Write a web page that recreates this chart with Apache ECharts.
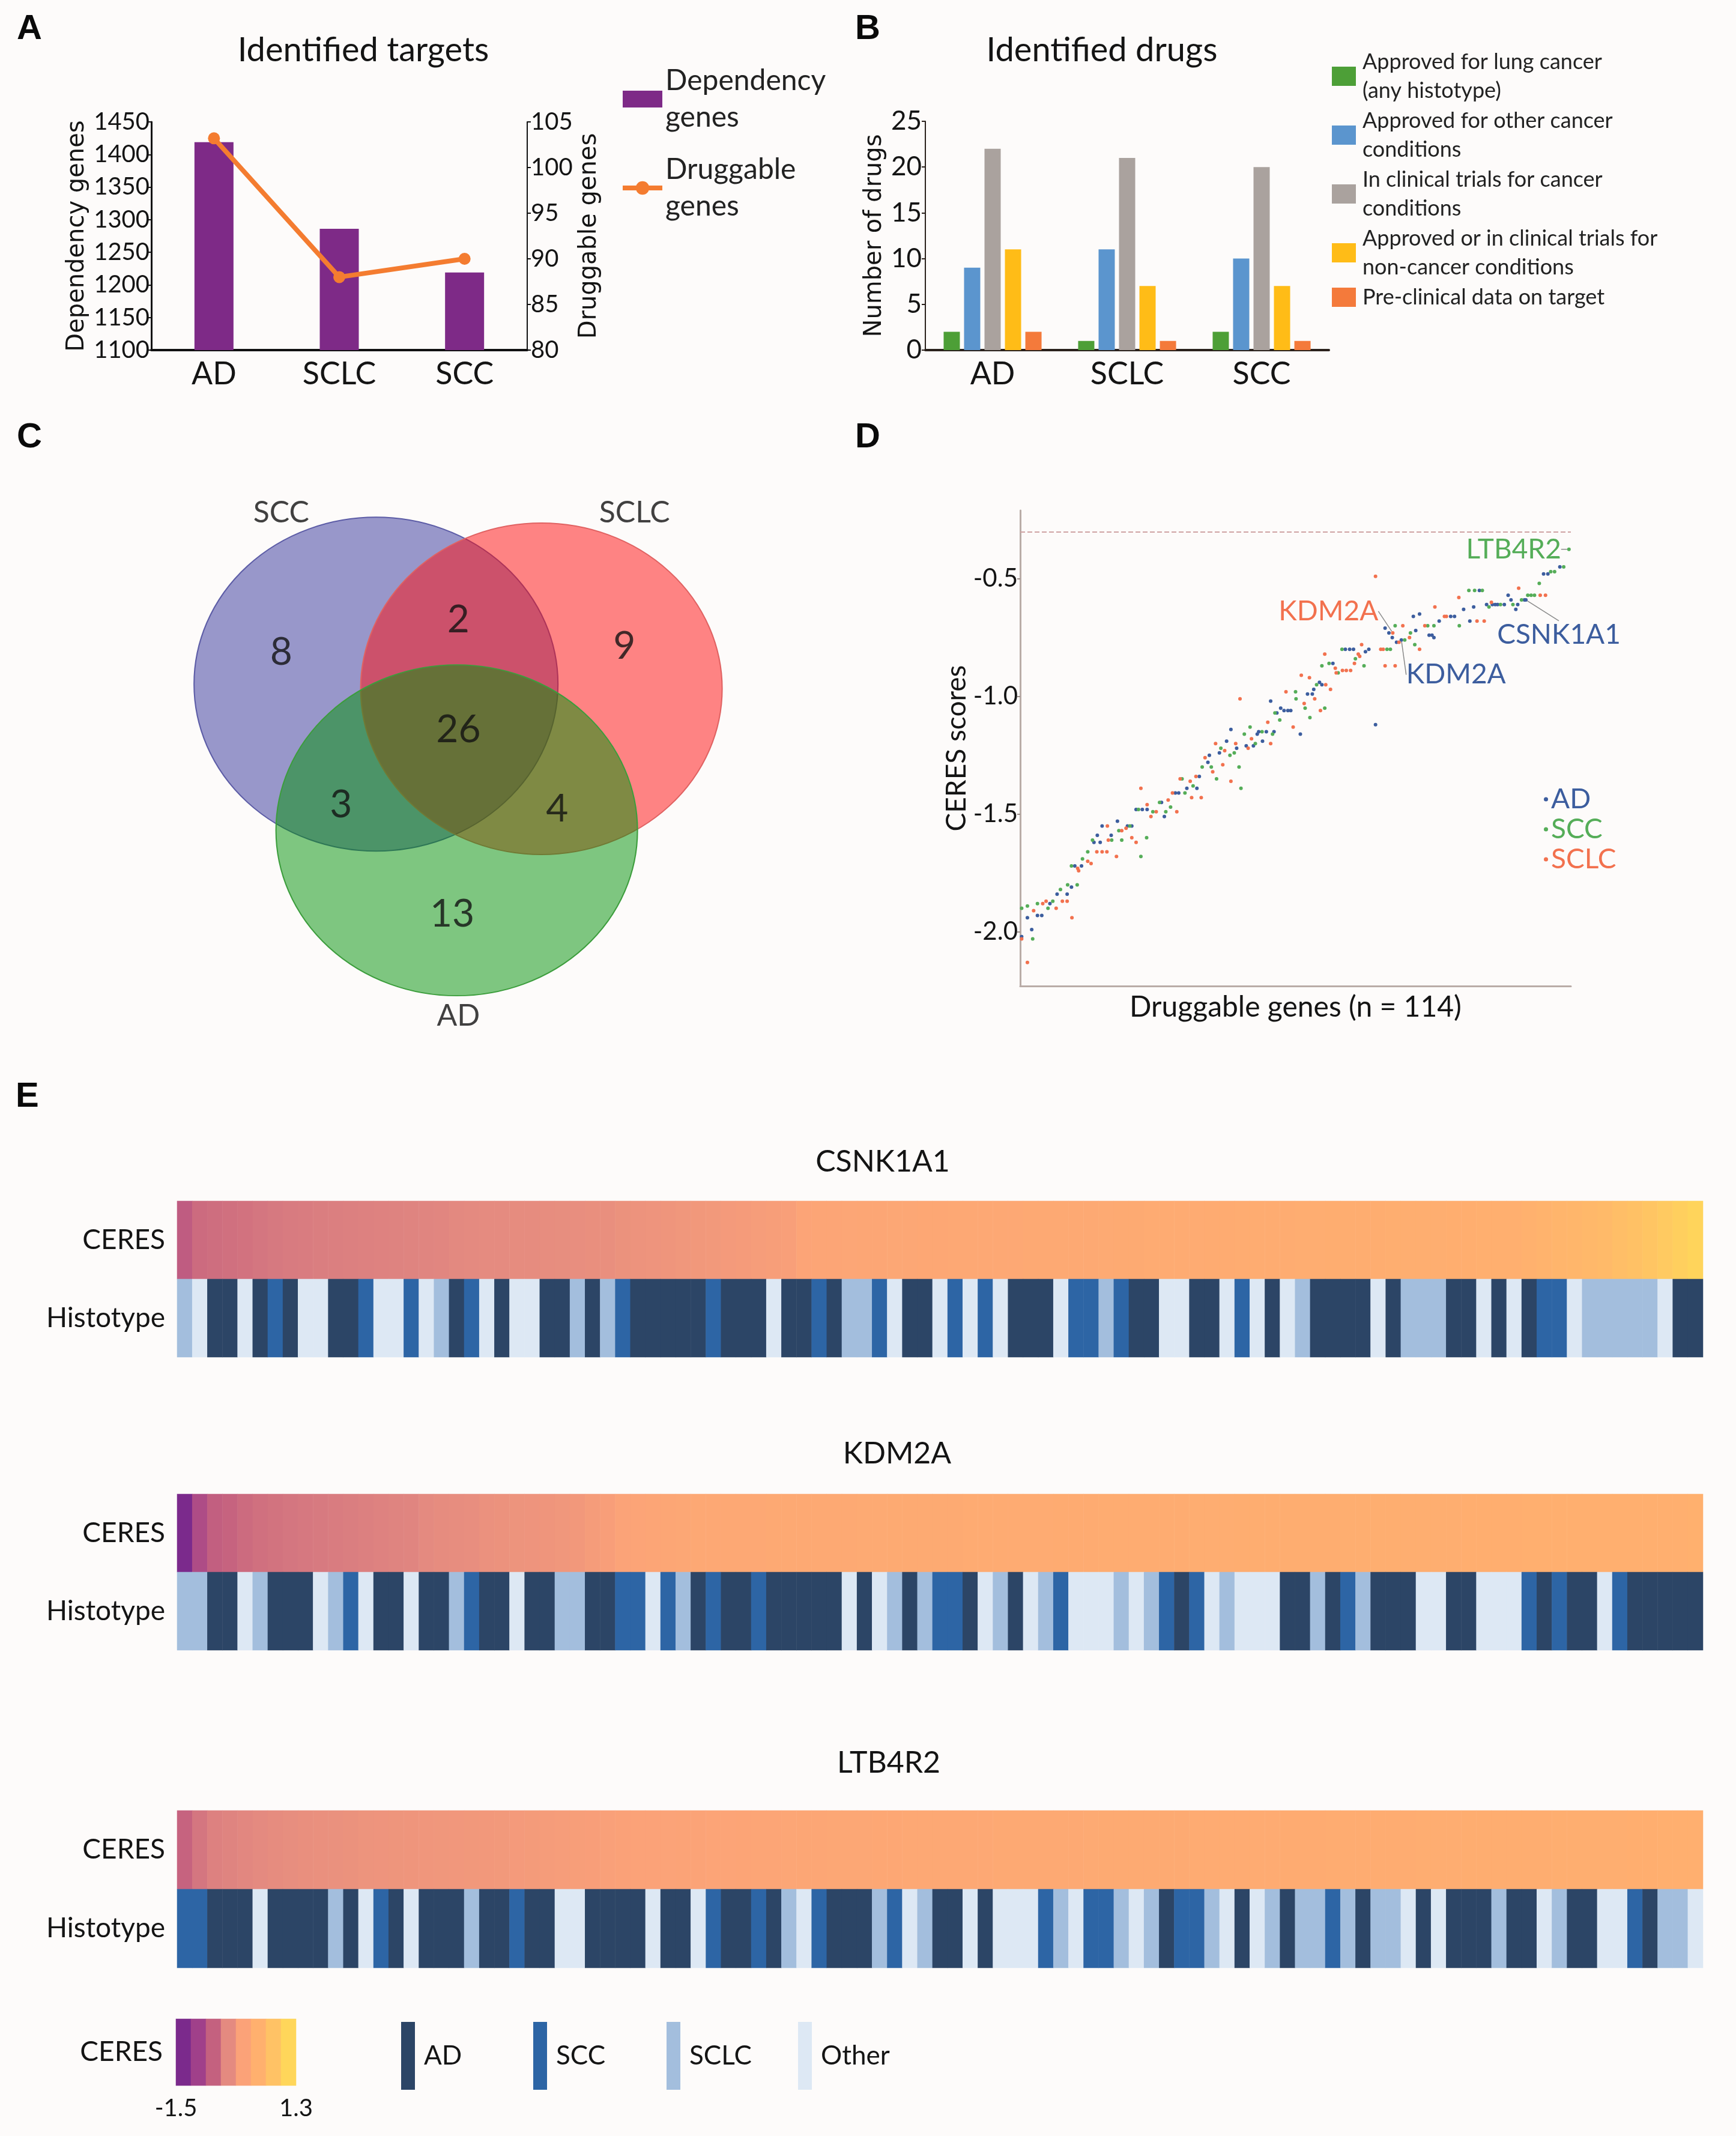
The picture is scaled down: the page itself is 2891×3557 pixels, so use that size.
<!DOCTYPE html>
<html><head><meta charset="utf-8">
<script src="https://cdn.jsdelivr.net/npm/echarts@6/dist/echarts.min.js"></script>
<style>html,body{margin:0;padding:0;background:#fdfbfa}#c{width:2891px;height:3557px}</style>
</head><body><div id="c"></div>
<script>
// ---------------- Panel A data
const histotypes = ['AD', 'SCLC', 'SCC'];
const dependencyGenes = [1419, 1286, 1219];
const druggableGenes = [103.2, 88.0, 90.0];

// ---------------- Panel B data
const drugCategories = [
  'Approved for lung cancer\n(any histotype)',
  'Approved for other cancer\nconditions',
  'In clinical trials for cancer\nconditions',
  'Approved or in clinical trials for\nnon-cancer conditions',
  'Pre-clinical data on target'
];
const drugsApprovedLung = [2, 1, 2];
const drugsApprovedOther = [9, 11, 10];
const drugsClinicalCancer = [22, 21, 20];
const drugsNonCancer = [11, 7, 7];
const drugsPreclinical = [2, 1, 1];

// ---------------- Panel C data
const vennSets = ['SCC', 'SCLC', 'AD'];
const vennRegions = ['SCC', 'SCC&SCLC', 'SCLC', 'SCC&SCLC&AD', 'SCC&AD', 'SCLC&AD', 'AD'];
const vennCounts = [8, 2, 9, 26, 3, 4, 13];

// ---------------- Panel D data  [gene rank, CERES score]
const ceresAD = [[0.3,-2.02],[1.5,-1.94],[2.4,-1.99],[3.6,-1.93],[4.5,-1.93],[6.2,-1.88],[7.7,-1.84],[9.8,-1.84],[10.7,-1.81],[11.4,-1.72],[12.8,-1.72],[15.4,-1.62],[16.1,-1.59],[16.7,-1.62],[17.1,-1.55],[19.0,-1.59],[20.3,-1.53],[22.4,-1.55],[23.3,-1.55],[24.2,-1.48],[25.5,-1.48],[26.5,-1.48],[29.5,-1.45],[30.1,-1.51],[32.4,-1.41],[33.1,-1.41],[34.8,-1.39],[36.9,-1.39],[37.4,-1.34],[39.2,-1.28],[39.5,-1.25],[41.6,-1.24],[43.1,-1.19],[44.0,-1.14],[45.2,-1.22],[47.2,-1.21],[48.7,-1.21],[49.5,-1.16],[49.8,-1.15],[50.6,-1.19],[51.4,-1.15],[52.3,-1.02],[53.0,-1.15],[53.6,-1.07],[54.4,-1.05],[55.1,-1.06],[55.9,-1.06],[56.5,-1.06],[58.5,-1.16],[60.0,-0.99],[61.0,-0.99],[61.3,-0.97],[62.5,-0.94],[63.0,-0.95],[65.3,-0.86],[67.9,-0.80],[68.8,-0.80],[69.6,-0.80],[72.1,-0.81],[72.8,-0.80],[74.2,-1.12],[76.2,-0.71],[77.0,-0.73],[77.7,-0.75],[78.6,-0.77],[79.6,-0.76],[82.1,-0.66],[82.6,-0.72],[83.4,-0.65],[85.4,-0.74],[86.0,-0.74],[86.4,-0.75],[87.5,-0.68],[89.9,-0.66],[90.7,-0.66],[92.6,-0.63],[93.9,-0.68],[94.7,-0.62],[95.9,-0.55],[97.4,-0.61],[98.6,-0.61],[99.2,-0.61],[99.7,-0.61],[101.1,-0.61],[101.9,-0.57],[102.5,-0.59],[103.5,-0.63],[103.9,-0.61],[105.3,-0.59],[105.6,-0.59],[109.3,-0.48],[110.2,-0.48],[112.7,-0.45]];
const ceresSCC = [[0.3,-1.90],[1.5,-1.89],[2.6,-2.03],[3.6,-1.88],[5.8,-1.90],[6.8,-1.87],[8.4,-1.82],[9.9,-1.80],[10.7,-1.72],[11.9,-1.80],[13.0,-1.69],[14.1,-1.66],[15.1,-1.61],[19.1,-1.61],[20.6,-1.57],[21.2,-1.61],[22.9,-1.55],[24.7,-1.48],[25.2,-1.68],[26.4,-1.60],[27.7,-1.49],[29.1,-1.45],[30.4,-1.49],[31.4,-1.47],[33.8,-1.35],[34.4,-1.41],[36.1,-1.38],[38.0,-1.30],[39.9,-1.30],[41.0,-1.35],[41.9,-1.22],[43.8,-1.25],[44.7,-1.24],[45.7,-1.30],[46.1,-1.39],[46.8,-1.16],[48.0,-1.13],[49.1,-1.20],[50.5,-1.15],[52.7,-1.16],[53.2,-1.07],[54.2,-1.10],[57.5,-0.98],[57.6,-1.01],[59.5,-1.05],[60.5,-1.09],[61.9,-0.95],[63.0,-0.87],[63.6,-1.05],[64.5,-0.86],[66.4,-0.90],[67.2,-0.80],[70.0,-0.84],[71.8,-0.87],[76.6,-0.80],[77.3,-0.80],[78.3,-0.70],[80.3,-0.76],[81.5,-0.73],[82.4,-0.78],[85.1,-0.70],[86.4,-0.70],[91.7,-0.70],[93.7,-0.55],[94.9,-0.55],[96.5,-0.55],[97.9,-0.62],[100.3,-0.61],[102.9,-0.61],[104.7,-0.59],[106.0,-0.57],[106.7,-0.57],[107.4,-0.57],[108.4,-0.52],[110.8,-0.47],[111.6,-0.47],[113.5,-0.45],[114.6,-0.375]];
const ceresSCLC = [[0.3,-2.03],[1.5,-2.13],[2.8,-1.91],[4.7,-1.88],[5.4,-1.87],[7.5,-1.90],[8.8,-1.87],[9.8,-1.87],[10.8,-1.94],[12.0,-1.73],[12.2,-1.74],[14.1,-1.70],[14.8,-1.71],[16.0,-1.66],[17.1,-1.66],[18.1,-1.66],[18.2,-1.55],[18.4,-1.61],[20.1,-1.68],[21.2,-1.57],[22.1,-1.56],[23.3,-1.60],[24.2,-1.62],[25.2,-1.39],[26.5,-1.46],[27.3,-1.51],[28.4,-1.49],[30.9,-1.44],[31.8,-1.41],[32.7,-1.49],[33.4,-1.35],[35.5,-1.36],[35.8,-1.43],[36.7,-1.34],[37.8,-1.43],[38.6,-1.26],[40.2,-1.32],[40.8,-1.20],[42.3,-1.29],[42.7,-1.23],[44.0,-1.36],[45.0,-1.20],[45.9,-1.01],[47.6,-1.22],[48.3,-1.18],[51.7,-1.11],[52.3,-1.20],[55.5,-0.98],[57.0,-1.13],[58.7,-0.91],[59.3,-1.03],[60.4,-0.92],[61.5,-1.01],[62.7,-1.06],[63.6,-0.82],[63.8,-0.95],[64.8,-0.97],[65.8,-0.88],[66.0,-0.90],[67.3,-0.89],[68.1,-0.89],[69.0,-0.89],[69.8,-0.86],[70.6,-0.82],[70.9,-0.83],[71.3,-0.78],[74.2,-0.49],[75.3,-0.80],[75.8,-0.80],[76.2,-0.87],[77.8,-0.73],[78.3,-0.87],[79.1,-0.77],[79.9,-0.70],[81.3,-0.75],[83.4,-0.80],[84.5,-0.70],[86.6,-0.62],[88.6,-0.66],[89.0,-0.66],[91.6,-0.58],[95.4,-0.68],[96.9,-0.68],[98.4,-0.60],[104.1,-0.54],[108.6,-0.57],[109.7,-0.57]];
const ceresThreshold = -0.3;
const yTicksD = [-2.0, -1.5, -1.0, -0.5];
// highlighted genes: [series, rank] -> gene name
const highlightGenes = [['AD', 79.6, 'KDM2A'], ['AD', 105.6, 'CSNK1A1'], ['SCC', 114.6, 'LTB4R2'], ['SCLC', 77.8, 'KDM2A']];

// ---------------- Panel E data
const heatGenes = ['CSNK1A1', 'KDM2A', 'LTB4R2'];
const heatCeresCSNK1A1 = [-0.76,-0.60,-0.57,-0.55,-0.53,-0.50,-0.47,-0.45,-0.44,-0.42,-0.41,-0.40,-0.39,-0.38,-0.37,-0.36,-0.35,-0.34,-0.31,-0.30,-0.29,-0.28,-0.27,-0.26,-0.25,-0.24,-0.23,-0.22,-0.21,-0.17,-0.15,-0.13,-0.11,-0.09,-0.07,-0.05,-0.03,-0.01,0.01,0.03,0.05,0.16,0.18,0.19,0.20,0.21,0.22,0.23,0.24,0.25,0.25,0.26,0.27,0.27,0.28,0.28,0.29,0.29,0.30,0.30,0.31,0.32,0.34,0.34,0.35,0.35,0.36,0.36,0.37,0.37,0.38,0.38,0.39,0.39,0.40,0.40,0.41,0.41,0.42,0.42,0.43,0.43,0.44,0.44,0.45,0.45,0.46,0.47,0.48,0.52,0.56,0.60,0.64,0.68,0.72,0.80,0.88,0.96,1.05,1.15,1.25];
const heatCeresKDM2A = [-1.50,-0.95,-0.72,-0.68,-0.60,-0.55,-0.52,-0.50,-0.48,-0.46,-0.44,-0.42,-0.40,-0.38,-0.36,-0.35,-0.30,-0.27,-0.25,-0.23,-0.18,-0.16,-0.14,-0.13,-0.11,-0.09,-0.06,0.00,0.04,0.12,0.16,0.19,0.21,0.24,0.26,0.27,0.27,0.28,0.28,0.29,0.29,0.30,0.30,0.31,0.31,0.32,0.32,0.33,0.33,0.33,0.34,0.34,0.35,0.35,0.35,0.36,0.36,0.36,0.37,0.37,0.37,0.38,0.38,0.38,0.39,0.39,0.39,0.40,0.40,0.40,0.41,0.41,0.41,0.42,0.42,0.42,0.42,0.43,0.43,0.43,0.43,0.44,0.44,0.44,0.44,0.45,0.45,0.45,0.45,0.46,0.46,0.46,0.46,0.47,0.47,0.47,0.47,0.48,0.48,0.48,0.49];
const heatCeresLTB4R2 = [-0.68,-0.50,-0.39,-0.36,-0.33,-0.30,-0.26,-0.24,-0.22,-0.20,-0.19,-0.17,-0.14,-0.13,-0.12,-0.11,-0.10,-0.09,-0.08,-0.07,-0.06,-0.05,-0.03,-0.02,0.00,0.01,0.03,0.04,0.06,0.09,0.10,0.11,0.12,0.13,0.14,0.15,0.16,0.17,0.18,0.19,0.20,0.22,0.22,0.23,0.24,0.24,0.25,0.25,0.26,0.26,0.27,0.27,0.28,0.28,0.29,0.29,0.30,0.30,0.31,0.31,0.32,0.33,0.33,0.33,0.34,0.34,0.34,0.35,0.35,0.35,0.36,0.36,0.36,0.37,0.37,0.37,0.38,0.38,0.38,0.39,0.39,0.39,0.40,0.40,0.40,0.41,0.41,0.41,0.42,0.42,0.42,0.43,0.43,0.43,0.44,0.44,0.45,0.45,0.46,0.46,0.47];
// histotype runs read left to right: D=AD, S=SCC, L=SCLC, O=Other, number = run length
const histoRunsCSNK1A1 = 'L1 O1 D2 O1 D1 S1 D1 O2 D2 S1 O2 S1 O1 L1 D1 S1 O1 D1 O2 D2 L1 D1 L1 S1 D5 S1 D3 O1 D2 S1 D1 L2 S1 O1 D2 O1 S1 O1 S1 O1 D3 O1 S2 L1 S1 D2 O2 D2 O1 S1 O1 D1 O1 L1 D4 O1 D1 L3 D2 O1 D1 O1 D1 S2 O1 L5 O1 D2';
const histoRunsKDM2A = 'L2 D2 O1 L1 D3 O1 L1 S1 O1 D2 O1 D2 L1 S1 D2 O1 D2 L2 D2 S2 O1 S1 L1 D1 S1 D2 S1 D5 O1 D1 O1 L1 D1 L1 S2 D1 O1 L1 D1 O1 L1 S1 O3 L1 O1 L1 S1 D1 S1 O1 L1 O3 D2 L1 D1 S1 L1 D3 O2 D2 O3 S1 D1 S1 D2 O1 S1 D5';
const histoRunsLTB4R2 = 'S2 D3 O1 D4 L1 D1 O1 S1 D1 O1 D3 L1 D2 S1 D2 O2 D4 O1 D2 O1 S1 D2 S1 D1 L1 O1 S1 D3 L1 S1 O1 L1 D2 O1 D1 O3 S1 L1 O1 S2 L1 O1 L1 D1 S2 L1 O1 D1 O1 L1 D1 L2 S1 L1 D1 L2 O1 D1 O1 D3 L1 D2 O1 L1 D2 O2 S1 D1 L2 O1';
const histoLegend = ['AD', 'SCC', 'SCLC', 'Other'];
const ceresLegendSteps = [-1.5, -1.1, -0.7, -0.3, 0.1, 0.5, 0.9, 1.3];
const ceresLegendTicks = [-1.5, 1.3];

// ---------------- styles / layout
const FONT = 'Lato, "Open Sans", sans-serif';
const INK = '#141414';
const purple = '#7e2a87', orange = '#f47c30';
const drugColors = ['#4d9f37', '#5b95ce', '#aaa29e', '#ffbc17', '#f47a3b'];
const scatterColors = {AD: '#3c5d9e', SCC: '#55ad58', SCLC: '#f2714e'};
const histoColors = ['#2c4566', '#2d65a5', '#a3bedd', '#dde8f4'];
const ceresPalette = ['#7b2a8c', '#a0408a', '#c4617f', '#e48a80', '#fba278', '#ffb06e', '#ffc265', '#ffd65a'];
const vennLayout = [
  {x: 34.7, y: 65.2, w: 606, h: 556, fill: 'rgba(51,51,153,0.5)', line: '#5c5ca6'},
  {x: 64.0, y: 64.3, w: 602, h: 552, fill: 'rgba(255,12,12,0.5)', line: '#e06262'},
  {x: 49.0, y: 36.9, w: 602, h: 551, fill: 'rgba(0,145,5,0.5)', line: '#3c9d3c'}
];
const vennRegionPos = [[17.9, 71.3], [49.3, 77.6], [78.7, 72.5], [49.3, 56.3], [28.5, 41.8], [66.8, 41.0], [48.2, 20.7]];
const vennSetPos = [[17.9, 98.4], [80.5, 98.4], [49.3, 0.9]];
const annotStyle = {
  'AD|79.6': {pos: 'bottom', dx: 91, dy: 22},
  'AD|105.6': {pos: 'bottom', dx: 55, dy: 22},
  'SCC|114.6': {pos: 'left', dx: 0, dy: 0},
  'SCLC|77.8': {pos: 'top', dx: -107, dy: 0}
};

function expandRuns(s) {
  const map = {D: 0, S: 1, L: 2, O: 3};
  const out = [];
  s.split(' ').forEach(t => { const n = +t.slice(1); for (let k = 0; k < n; k++) out.push(map[t[0]]); });
  return out;
}

const chart = echarts.init(document.getElementById('c'), null, {renderer: 'canvas', width: 2891, height: 3557});

const grids = [
  {left: 252, top: 203, width: 626, height: 380},
  {left: 1541, top: 202, width: 672, height: 381},
  {left: 300, top: 840, width: 940, height: 860},
  {left: 1699, top: 850, width: 917, height: 792},
  {left: 295, top: 2000, width: 2541, height: 260},
  {left: 295, top: 2488, width: 2541, height: 260},
  {left: 295, top: 3015, width: 2541, height: 262},
  {left: 293, top: 3362, width: 200, height: 111}
];

const xAxes = [], yAxes = [], series = [];
const catLabel = {fontSize: 52, color: INK, margin: 14};
const plain = v => String(v);

// Panel A
xAxes.push({gridIndex: 0, type: 'category', data: histotypes, axisLine: {lineStyle: {color: '#111', width: 4}}, axisTick: {show: false}, axisLabel: catLabel});
yAxes.push({gridIndex: 0, type: 'value', min: 1100, max: 1450, interval: 50, splitLine: {show: false},
  axisLine: {show: true, lineStyle: {color: '#111', width: 3}}, axisTick: {show: true, length: 6, lineStyle: {color: '#111', width: 2}},
  axisLabel: {fontSize: 40, color: INK, margin: 3, formatter: plain},
  name: 'Dependency genes', nameLocation: 'middle', nameGap: 103, nameTextStyle: {fontFamily: 'DejaVu Sans', fontSize: 40, color: INK}});
yAxes.push({gridIndex: 0, type: 'value', position: 'right', min: 80, max: 105, interval: 5, splitLine: {show: false},
  axisLine: {show: true, lineStyle: {color: '#111', width: 2}}, axisTick: {show: true, length: 6, lineStyle: {color: '#111', width: 2}},
  axisLabel: {fontSize: 40, color: INK, margin: 6, formatter: plain},
  name: 'Druggable genes', nameLocation: 'middle', nameGap: 84, nameTextStyle: {fontFamily: 'DejaVu Sans', fontSize: 40, color: INK}});
series.push({type: 'bar', name: 'Dependency\ngenes', xAxisIndex: 0, yAxisIndex: 0, data: dependencyGenes, barWidth: 65, itemStyle: {color: purple}});
series.push({type: 'line', name: 'Druggable\ngenes', xAxisIndex: 0, yAxisIndex: 1, data: druggableGenes, symbol: 'circle', symbolSize: 20,
  lineStyle: {color: orange, width: 8}, itemStyle: {color: orange}});

// Panel B
xAxes.push({gridIndex: 1, type: 'category', data: histotypes, axisLine: {lineStyle: {color: '#2a211c', width: 4}}, axisTick: {show: false}, axisLabel: catLabel});
yAxes.push({gridIndex: 1, type: 'value', min: 0, max: 25, interval: 5, splitLine: {show: false},
  axisLine: {show: true, lineStyle: {color: '#2a211c', width: 2}}, axisTick: {show: true, length: 6, lineStyle: {color: '#2a211c', width: 2}},
  axisLabel: {fontSize: 44, color: INK, margin: 6},
  name: 'Number of drugs', nameLocation: 'middle', nameGap: 64, nameTextStyle: {fontFamily: 'DejaVu Sans', fontSize: 40, color: INK}});
[drugsApprovedLung, drugsApprovedOther, drugsClinicalCancer, drugsNonCancer, drugsPreclinical].forEach((d, i) => {
  series.push({type: 'bar', name: drugCategories[i], xAxisIndex: 1, yAxisIndex: 2, data: d, barWidth: 27, barGap: '26%', itemStyle: {color: drugColors[i]}});
});

// Panel C (Venn)
xAxes.push({gridIndex: 2, type: 'value', min: 0, max: 100, show: false});
yAxes.push({gridIndex: 2, type: 'value', min: 0, max: 100, show: false});
series.push({type: 'scatter', name: 'vennSets', xAxisIndex: 2, yAxisIndex: 3, silent: true,
  data: vennSets.map((s, i) => ({name: s, value: [vennLayout[i].x, vennLayout[i].y], symbolSize: [vennLayout[i].w, vennLayout[i].h],
    itemStyle: {color: vennLayout[i].fill, borderColor: vennLayout[i].line, borderWidth: 2, opacity: 1}}))});
series.push({type: 'scatter', name: 'vennCounts', xAxisIndex: 2, yAxisIndex: 3, silent: true, symbolSize: 1, itemStyle: {color: 'rgba(0,0,0,0)'},
  label: {show: true, position: 'inside', fontSize: 64, color: '#111', formatter: p => p.value[2]},
  data: vennCounts.map((c, i) => [vennRegionPos[i][0], vennRegionPos[i][1], c])});
series.push({type: 'scatter', name: 'vennNames', xAxisIndex: 2, yAxisIndex: 3, silent: true, symbolSize: 1, itemStyle: {color: 'rgba(0,0,0,0)'},
  label: {show: true, position: 'inside', fontSize: 50, color: '#111', formatter: p => p.name},
  data: vennSets.map((s, i) => ({name: s, value: vennSetPos[i]}))});

// Panel D
xAxes.push({gridIndex: 3, type: 'value', min: 0, max: 115, splitLine: {show: false},
  axisLine: {show: true, onZero: false, lineStyle: {color: '#b9aca7', width: 3}}, axisTick: {show: false}, axisLabel: {show: false},
  name: 'Druggable genes (n = 114)', nameLocation: 'middle', nameGap: 12, nameTextStyle: {fontSize: 48, color: INK}});
yAxes.push({gridIndex: 3, type: 'value', min: -2.23, max: -0.21, splitLine: {show: false},
  axisLine: {show: true, onZero: false, lineStyle: {color: '#b9aca7', width: 3}},
  axisTick: {show: true, customValues: yTicksD, length: 5, lineStyle: {color: '#9a8d88', width: 2}},
  axisLabel: {customValues: yTicksD, formatter: v => v.toFixed(1), fontSize: 42, color: INK, margin: 4},
  name: 'CERES scores', nameLocation: 'middle', nameGap: 83, nameTextStyle: {fontSize: 46, color: INK}});
[['AD', ceresAD], ['SCC', ceresSCC], ['SCLC', ceresSCLC]].forEach(([nm, pts], si) => {
  const col = scatterColors[nm];
  const ann = {};
  highlightGenes.forEach(h => { if (h[0] === nm) ann[h[1]] = h[2]; });
  const s = {type: 'scatter', name: nm, xAxisIndex: 3, yAxisIndex: 4, symbolSize: 6, itemStyle: {color: col, opacity: 1},
    data: pts.map(p => ann[p[0]] ? {value: p, label: {show: true, formatter: ann[p[0]], position: annotStyle[nm + '|' + p[0]].pos, color: col, fontSize: 46, distance: 10},
      labelLine: {show: true, lineStyle: {color: '#8a8a8a', width: 1.5}}} : p),
    labelLayout: prm => { const p = pts[prm.dataIndex]; const st = p && ann[p[0]] ? annotStyle[nm + '|' + p[0]] : null; return st ? {dx: st.dx, dy: st.dy} : {}; }
  };
  if (si === 0) {
    s.markLine = {silent: true, symbol: ['none', 'none'], label: {show: false}, lineStyle: {type: 'dashed', color: '#cfa3a3', width: 2},
      data: [{yAxis: ceresThreshold}]};
  }
  series.push(s);
});

// Panel E heatmaps
const heatCeres = [heatCeresCSNK1A1, heatCeresKDM2A, heatCeresLTB4R2];
const heatHisto = [expandRuns(histoRunsCSNK1A1), expandRuns(histoRunsKDM2A), expandRuns(histoRunsLTB4R2)];
const ceresSeriesIdx = [], histoSeriesIdx = [];
heatGenes.forEach((g, gi) => {
  const n = Math.max(heatCeres[gi].length, heatHisto[gi].length);
  const cols = Array.from({length: n}, (_, i) => String(i));
  xAxes.push({gridIndex: 4 + gi, type: 'category', data: cols, show: false});
  yAxes.push({gridIndex: 4 + gi, type: 'category', data: ['Histotype', 'CERES'], axisLine: {show: false}, axisTick: {show: false},
    axisLabel: {fontSize: 46, color: INK, margin: 20}});
  ceresSeriesIdx.push(series.length);
  series.push({type: 'heatmap', name: g + ' CERES', xAxisIndex: xAxes.length - 1, yAxisIndex: yAxes.length - 1,
    data: heatCeres[gi].map((v, i) => [i, 1, v]), itemStyle: {borderWidth: 0}});
  histoSeriesIdx.push(series.length);
  series.push({type: 'heatmap', name: g + ' Histotype', xAxisIndex: xAxes.length - 1, yAxisIndex: yAxes.length - 1,
    data: heatHisto[gi].map((v, i) => [i, 0, v]), itemStyle: {borderWidth: 0}});
});

// Panel E legend: CERES gradient
xAxes.push({gridIndex: 7, type: 'category', data: ceresLegendSteps.map(String), show: false});
xAxes.push({gridIndex: 7, type: 'value', min: -1.5, max: 1.3, position: 'bottom', splitLine: {show: false}, axisLine: {show: false}, axisTick: {show: false},
  axisLabel: {customValues: ceresLegendTicks, showMinLabel: true, showMaxLabel: true, fontSize: 40, color: INK, margin: 18}});
yAxes.push({gridIndex: 7, type: 'category', data: ['CERES'], axisLine: {show: false}, axisTick: {show: false}, axisLabel: {fontSize: 46, color: INK, margin: 22}});
ceresSeriesIdx.push(series.length);
series.push({type: 'heatmap', name: 'CERES legend', xAxisIndex: xAxes.length - 2, yAxisIndex: yAxes.length - 1,
  data: ceresLegendSteps.map((v, i) => [i, 0, v]), itemStyle: {borderWidth: 0}});

// Panel E legend: histotype (legend entries)
histoLegend.forEach((h, i) => {
  series.push({type: 'scatter', name: h + '_E', xAxisIndex: 3, yAxisIndex: 4, data: [], itemStyle: {color: histoColors[i], opacity: 1}});
});

const titles = [
  {text: 'A', left: 28, top: 20}, {text: 'B', left: 1424, top: 20}, {text: 'C', left: 28, top: 700},
  {text: 'D', left: 1424, top: 700}, {text: 'E', left: 26, top: 1798}
].map(t => Object.assign(t, {padding: 0, textStyle: {fontFamily: '"Liberation Sans", Arial, sans-serif', fontWeight: 'bold', fontSize: 58, color: '#0a0a0a'}}));
[
  {text: 'Identified targets', left: 605, top: 56, size: 56},
  {text: 'Identified drugs', left: 1835, top: 56, size: 56},
  {text: heatGenes[0], left: 1470, top: 1910, size: 50},
  {text: heatGenes[1], left: 1494, top: 2396, size: 50},
  {text: heatGenes[2], left: 1480, top: 2911, size: 50}
].forEach(t => titles.push({text: t.text, left: t.left, top: t.top, textAlign: 'center', padding: 0,
  textStyle: {fontFamily: FONT, fontWeight: 'normal', fontSize: t.size, color: INK}}));

const legends = [
  {data: [{name: 'Dependency\ngenes', icon: 'rect'}, {name: 'Druggable\ngenes'}], left: 1028, top: 99, orient: 'vertical',
    itemWidth: 66, itemHeight: 28, itemGap: 26, lineStyle: {width: 8}, textStyle: {fontSize: 48, lineHeight: 61, color: '#222'}},
  {data: drugCategories.map(n => ({name: n, icon: 'rect'})), left: 2213, top: 74, orient: 'vertical',
    itemWidth: 40, itemHeight: 32, itemGap: 2, textStyle: {fontSize: 36, lineHeight: 48, color: '#222', padding: [0, 0, 0, 6]}},
  {data: ['AD', 'SCC', 'SCLC'].map(n => ({name: n, icon: 'circle', textStyle: {color: scatterColors[n]}})), left: 2566, top: 1303, orient: 'vertical',
    itemWidth: 7, itemHeight: 7, itemGap: 4, textStyle: {fontSize: 46, lineHeight: 45}}
];
const histoLegendLeft = [663, 883, 1105, 1324];
histoLegend.forEach((h, i) => legends.push({data: [{name: h + '_E', icon: 'rect', itemStyle: {color: histoColors[i], opacity: 1}}], left: histoLegendLeft[i], top: 3362,
  itemWidth: 23, itemHeight: 113, formatter: n => n.replace('_E', ''), textStyle: {fontSize: 44, color: INK, padding: [0, 0, 0, 10]}}));

chart.setOption({
  animation: false,
  backgroundColor: '#fdfbfa',
  textStyle: {fontFamily: FONT},
  title: titles,
  legend: legends,
  grid: grids,
  xAxis: xAxes,
  yAxis: yAxes,
  visualMap: [
    {type: 'continuous', show: false, min: -1.5, max: 1.3, dimension: 2, seriesIndex: ceresSeriesIdx, inRange: {color: ceresPalette}},
    {type: 'piecewise', show: false, dimension: 2, seriesIndex: histoSeriesIdx,
      pieces: histoLegend.map((h, i) => ({value: i, label: h, color: histoColors[i]}))}
  ],
  series: series
});
</script></body></html>
